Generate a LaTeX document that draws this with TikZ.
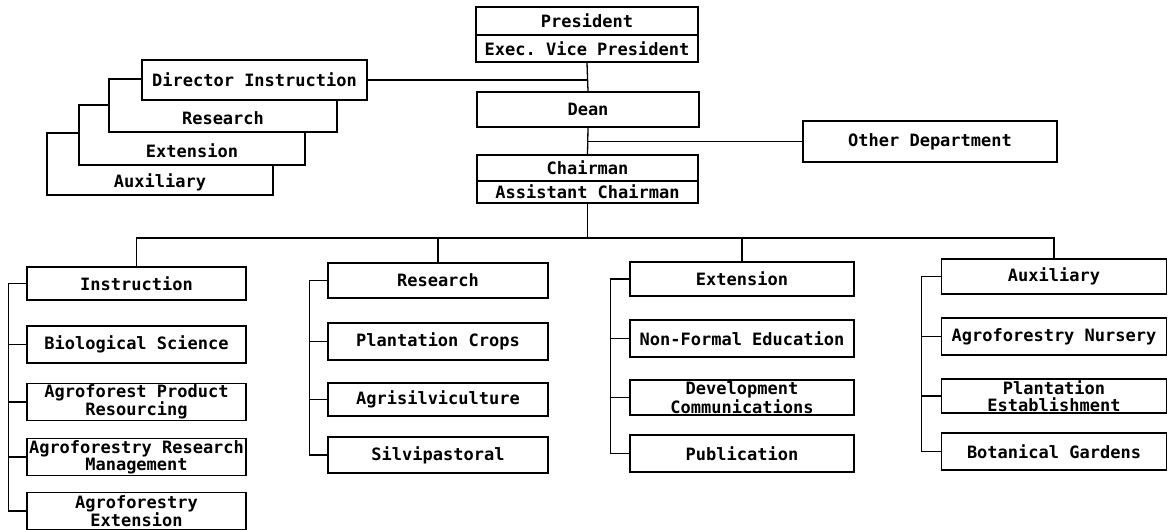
\documentclass[tikz,border=0pt]{standalone}
\usepackage{fontspec}
\setmonofont{DejaVu Sans Mono}
\usetikzlibrary{positioning}

\begin{document}
\begin{tikzpicture}[x=1pt,y=-1pt,
  font=\ttfamily\bfseries\fontsize{17}{17}\selectfont,
  unit/.style={draw,line width=1.6pt,fill=white,inner sep=0pt,align=center,
               minimum height=#1},
  unit/.default=37pt,
  layer/.style={draw,line width=1.6pt,fill=white,inner sep=0pt,
                text height=#1,text depth=8pt},
  link/.style={line width=1.3pt}]
  \useasboundingbox (0,0) rectangle (1168,530);
  % top of the chart
  \node[unit=28pt,minimum width=222pt] (pres) at (587,21) {President};
  \node[unit=27pt,minimum width=222pt] (evp) at (587,48.5) {Exec. Vice President};
  \node[unit=35pt,minimum width=222pt] (dean) at (588,109.5) {Dean};
  \node[unit=26pt,minimum width=221pt] (chair) at (587.5,168) {Chairman};
  \node[unit=22pt,minimum width=221pt] (asst) at (587.5,192) {Assistant Chairman};
  \node[unit=41pt,minimum width=254pt] (odept) at (930,141.5) {Other Department};
  % stacked director boxes, back to front
  \node[layer=54pt,minimum width=226pt] (daux) at (160,164) {Auxiliary};
  \node[layer=52pt,minimum width=226pt] (dext) at (192,135) {Extension};
  \node[layer=45pt,minimum width=228pt] (dres) at (223,105.5) {Research};
  \node[unit=40pt,minimum width=225pt] (dir) at (254.5,80) {Director Instruction};
  \draw[link] (evp.south) -- (dean.north);
  \draw[link] (dir.east) -- (dir.east -| evp.south);
  \draw[link] (dean.south) -- (chair.north);
  \draw[link] (odept.west) -- (odept.west -| dean.south);
  % instruction column
  \node[unit=33pt,minimum width=219pt] (ins) at (136.5,283.5) {Instruction};
  \node[unit,minimum width=219pt] (bio) at (136.5,344.5) {Biological Science};
  \node[unit,minimum width=219pt] (apr) at (136.5,402) {Agroforest Product\\Resourcing};
  \node[unit,minimum width=219pt] (arm) at (136.5,457) {Agroforestry Research\\Management};
  \node[unit,minimum width=219pt] (aex) at (136.5,511) {Agroforestry\\Extension};
  \draw[link] (ins.west) -- ++(-18,0) coordinate (insspine) |- (aex.west);
  \draw[link] (bio.west) -- (bio.west -| insspine);
  \draw[link] (apr.west) -- (apr.west -| insspine);
  \draw[link] (arm.west) -- (arm.west -| insspine);
  % research column
  \node[unit=35pt,minimum width=220pt] (res) at (438,280.5) {Research};
  \node[unit,minimum width=220pt] (pcr) at (438,341.5) {Plantation Crops};
  \node[unit=33pt,minimum width=220pt] (agr) at (438,399.5) {Agrisilviculture};
  \node[unit=36pt,minimum width=220pt] (sil) at (438,455) {Silvipastoral};
  \draw[link] (res.west) -- ++(-18,0) coordinate (resspine) |- (sil.west);
  \draw[link] (pcr.west) -- (pcr.west -| resspine);
  \draw[link] (agr.west) -- (agr.west -| resspine);
  % extension column
  \node[unit=34pt,minimum width=224pt] (ext) at (742,279) {Extension};
  \node[unit,minimum width=224pt] (nfe) at (742,338.5) {Non-Formal Education};
  \node[unit=35pt,minimum width=224pt] (dco) at (742,397.5) {Development\\Communications};
  \node[unit,minimum width=224pt] (pub) at (742,453.5) {Publication};
  \draw[link] (ext.west) -- ++(-19,0) coordinate (extspine) |- (pub.west);
  \draw[link] (nfe.west) -- (nfe.west -| extspine);
  \draw[link] (dco.west) -- (dco.west -| extspine);
  % auxiliary column
  \node[unit=35pt,minimum width=225pt] (aux) at (1054,276.5) {Auxiliary};
  \node[unit,minimum width=225pt] (anu) at (1054,336.5) {Agroforestry Nursery};
  \node[unit=34pt,minimum width=225pt] (pes) at (1054,396) {Plantation\\Establishment};
  \node[unit,minimum width=225pt] (bga) at (1054,451.5) {Botanical Gardens};
  \draw[link] (aux.west) -- ++(-19,0) coordinate (auxspine) |- (bga.west);
  \draw[link] (anu.west) -- (anu.west -| auxspine);
  \draw[link] (pes.west) -- (pes.west -| auxspine);
  % bus from the chairman
  \coordinate (bus) at (asst.south |- 0,238);
  \draw[link] (asst.south) -- (bus);
  \draw[link] (ins.north) |- (bus) -| (aux.north);
  \draw[link] (res.north) -- (res.north |- bus);
  \draw[link] (ext.north) -- (ext.north |- bus);
\end{tikzpicture}
\end{document}
